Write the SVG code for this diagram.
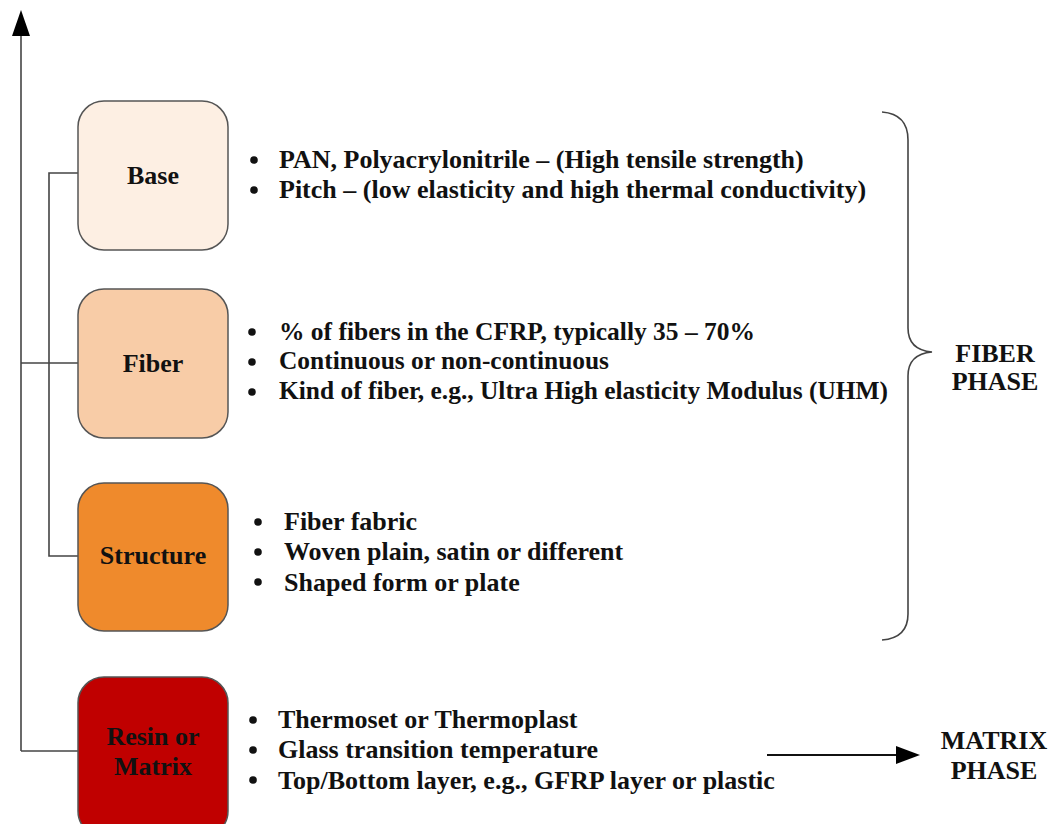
<svg xmlns="http://www.w3.org/2000/svg" width="1054" height="824" viewBox="0 0 1054 824">
<style>
text{font-family:"Liberation Serif","Times New Roman",serif;font-weight:bold;fill:#111;font-size:26px}
.lbl{text-anchor:middle}
.box{stroke:#555;stroke-width:1.5}
.ln{stroke:#444;stroke-width:1.6;fill:none}
.blt{fill:#111}
</style>
<rect width="1054" height="824" fill="#fff"/>
<g id="connectors">
<line class="ln" x1="21" y1="751" x2="21" y2="34"/>
<path d="M21,10 L12,36 L30,36 Z" fill="#000"/>
<path class="ln" d="M78,173 H49 V556 H78"/>
<line class="ln" x1="21" y1="363" x2="78" y2="363"/>
<path class="ln" d="M21,751 H78"/>
<line x1="767" y1="755" x2="898" y2="755" stroke="#111" stroke-width="2"/>
<path d="M920,755 L896,746 L896,764 Z" fill="#000"/>
<path class="ln" d="M882,112 Q908,114 908,140 V328 Q908,350 932,352 Q908,354 908,376 V614 Q908,638 882,640"/>
</g>
<g id="base">
<rect class="box" x="78" y="101" width="150" height="149" rx="26" fill="#fdefe3"/>
<text class="lbl" x="153" y="184">Base</text>
<circle class="blt" cx="254" cy="160" r="3.8"/><circle class="blt" cx="254" cy="190" r="3.8"/>
<text x="279" y="168">PAN, Polyacrylonitrile – (High tensile strength)</text>
<text x="279" y="198">Pitch – (low elasticity and high thermal conductivity)</text>
</g>
<g id="fiber">
<rect class="box" x="78" y="289" width="150" height="149" rx="26" fill="#f8cca7"/>
<text class="lbl" x="153" y="372">Fiber</text>
<circle class="blt" cx="252" cy="332" r="3.8"/><circle class="blt" cx="252" cy="362" r="3.8"/><circle class="blt" cx="252" cy="392" r="3.8"/>
<text x="279" y="340" textLength="476" lengthAdjust="spacingAndGlyphs">% of fibers in the CFRP, typically 35 – 70%</text>
<text x="279" y="369" textLength="330" lengthAdjust="spacingAndGlyphs">Continuous or non-continuous</text>
<text x="279" y="399" textLength="609" lengthAdjust="spacingAndGlyphs">Kind of fiber, e.g., Ultra High elasticity Modulus (UHM)</text>
</g>
<g id="structure">
<rect class="box" x="78" y="483" width="150" height="148" rx="26" fill="#ef8a2c"/>
<text class="lbl" x="153" y="564">Structure</text>
<circle class="blt" cx="258" cy="522" r="3.8"/><circle class="blt" cx="258" cy="552" r="3.8"/><circle class="blt" cx="258" cy="582" r="3.8"/>
<text x="284" y="530">Fiber fabric</text>
<text x="284" y="560">Woven plain, satin or different</text>
<text x="284" y="591">Shaped form or plate</text>
</g>
<g id="resin">
<rect class="box" x="78" y="677" width="150" height="160" rx="26" fill="#c00000"/>
<text class="lbl" x="153" y="745">Resin or</text>
<text class="lbl" x="153" y="775">Matrix</text>
<circle class="blt" cx="253" cy="720" r="3.8"/><circle class="blt" cx="253" cy="750" r="3.8"/><circle class="blt" cx="253" cy="780" r="3.8"/>
<text x="278" y="728">Thermoset or Thermoplast</text>
<text x="278" y="758">Glass transition temperature</text>
<text x="278" y="789">Top/Bottom layer, e.g., GFRP layer or plastic</text>
</g>
<g id="fiber-phase">
<text class="lbl" x="995" y="362">FIBER</text>
<text class="lbl" x="995" y="390">PHASE</text>
</g>
<g id="matrix-phase">
<text class="lbl" x="994" y="749">MATRIX</text>
<text class="lbl" x="994" y="779">PHASE</text>
</g>
</svg>
